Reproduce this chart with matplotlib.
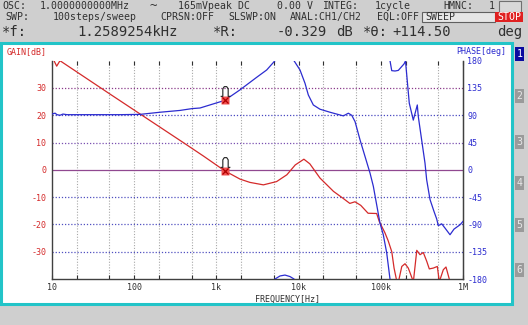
import numpy as np
import matplotlib.pyplot as plt
from matplotlib.patches import Rectangle
from matplotlib.path import Path
from matplotlib import transforms

plt.rcParams["font.family"] = "DejaVu Sans Mono"

W, H = 528, 325

# gain trace (Hz, dB)
gain_freq = [10, 11.4, 12.5, 20, 50, 100, 200, 400, 700, 1259, 1940, 2560, 3730,
             5400, 7200, 9100, 11600, 13700, 18200, 26600, 35000, 42000, 48500,
             57000, 70000, 89000, 96000, 112000, 123000, 136000, 145000, 157000,
             164000, 180000, 197000, 216000, 249000, 274000, 300000, 329000,
             362000, 389000, 435000, 487000, 515000, 576000, 621000, 695000, 1000000]
gain_db = [41.5, 38, 40, 35.9, 27.9, 21.9, 15.9, 9.9, 5.0, -0.33, -3.4, -4.6, -5.5,
           -4.3, -1.8, 1.8, 3.9, 2.2, -3.0, -7.9, -10.5, -12.3, -11.7,
           -13.0, -15.9, -16.0, -19.0, -23.0, -26.0, -30.0, -36.0, -41,
           -41, -35.4, -34.4, -36.0, -41, -29.5, -31.1, -30.3,
           -33.5, -36.3, -36.0, -35.4, -41, -36.6, -35.6, -41, -41]

# phase trace (Hz, deg, unwrapped)
phase_freq = [10, 10.9, 11.5, 12.5, 13.6, 15.2, 19.2, 33.5, 67, 118, 206, 361, 505,
              632, 1259, 1940, 3090, 4090, 5160, 5940, 6830, 7860, 8790, 10400,
              11970, 13130, 15100, 18200, 24100, 35000, 40300, 44300, 48600, 55900,
              64300, 74000, 81100, 89200, 97800, 107200, 118000, 129400, 135800,
              148900, 163300, 191500, 199700, 222000, 248500, 278000, 285800,
              314300, 345000, 361500, 397000, 443800, 478600, 500700, 550800,
              604000, 695000, 777700, 920000, 1000000]
phase_deg = [92, 93.5, 91, 90, 92, 91, 91, 91, 91, 91.5, 95, 98, 101,
             102, 114.5, 132, 152.6, 164.7, 180, 185, 186.5, 184, 180, 164.7,
             142.7, 123.5, 107, 100, 95, 89, 93.4, 90, 79.6, 49.4,
             22, -5.5, -27, -58, -88, -107, -137, -180, -196.4,
             -197, -196, -185.4, -180.5, -250, -278, -253, -272,
             -311, -349, -376.5, -409, -428.6, -441, -452, -449,
             -456, -467, -457.7, -450.6, -445]

marker_freq = 1258.9254
marker_gain = -0.329
marker_phase = 114.5

gain_ticks = [30, 20, 10, 0, -10, -20, -30]
phase_ticks = [180, 135, 90, 45, 0, -45, -90, -135, -180]
freq_ticks = [10, 100, 1e3, 1e4, 1e5, 1e6]
freq_labels = ["10", "100", "1k", "10k", "100k", "1M"]

RED = "#d42a2a"
BLUE = "#2c2cd0"
TXT = "#303030"
FS1 = 7.1
FS3 = 10


def fx(x):
    return x / W


def fy(y):
    return 1 - y / H


fig = plt.figure(figsize=(W / 100, H / 100), dpi=100, facecolor="#cfcfcf")

# header, line 1
fig.text(fx(2), fy(6), "OSC:", fontsize=FS1, color=TXT, va="center")
fig.text(fx(40), fy(6), "1.0000000000MHz", fontsize=FS1, color=TXT, va="center")
fig.text(fx(150), fy(6), "~", fontsize=9, color=TXT, va="center")
fig.text(fx(178), fy(6), "165mVpeak DC", fontsize=FS1, color=TXT, va="center")
fig.text(fx(277), fy(6), "0.00 V", fontsize=FS1, color=TXT, va="center")
fig.text(fx(322), fy(6), "INTEG:", fontsize=FS1, color=TXT, va="center")
fig.text(fx(375), fy(6), "1cycle", fontsize=FS1, color=TXT, va="center")
fig.text(fx(443), fy(6), "HMNC:", fontsize=FS1, color=TXT, va="center")
fig.text(fx(489), fy(6), "1", fontsize=FS1, color=TXT, va="center")
fig.patches.append(Rectangle((fx(499), fy(12)), 22 / W, 11 / H, transform=fig.transFigure,
                             facecolor="#d8d8d8", edgecolor="#707070", lw=0.8))

# line 2
fig.text(fx(5), fy(17), "SWP:", fontsize=FS1, color=TXT, va="center")
fig.text(fx(53), fy(17), "100steps/sweep", fontsize=FS1, color=TXT, va="center")
fig.text(fx(160), fy(17), "CPRSN:OFF", fontsize=FS1, color=TXT, va="center")
fig.text(fx(228), fy(17), "SLSWP:ON", fontsize=FS1, color=TXT, va="center")
fig.text(fx(290), fy(17), "ANAL:CH1/CH2", fontsize=FS1, color=TXT, va="center")
fig.text(fx(377), fy(17), "EQL:OFF", fontsize=FS1, color=TXT, va="center")
fig.patches.append(Rectangle((fx(422), fy(22)), 73 / W, 10 / H, transform=fig.transFigure,
                             facecolor="#e6e6e6", edgecolor="#606060", lw=0.8))
fig.text(fx(425), fy(17), "SWEEP", fontsize=FS1, color=TXT, va="center")
fig.patches.append(Rectangle((fx(495), fy(22)), 28 / W, 10 / H, transform=fig.transFigure,
                             facecolor="#e02020", edgecolor="none"))
fig.text(fx(497), fy(17), "STOP", fontsize=FS1, color="white", va="center")

# line 3 (cursor readout)
fig.text(fx(2), fy(32), "*f:", fontsize=FS3, color=TXT, va="center")
fig.text(fx(77), fy(32), "1.2589254kHz", fontsize=FS3, color=TXT, va="center")
fig.text(fx(213), fy(32), "*R:", fontsize=FS3, color=TXT, va="center")
fig.text(fx(277), fy(32), "-0.329", fontsize=FS3, color=TXT, va="center")
fig.text(fx(336), fy(32), "dB", fontsize=FS3, color=TXT, va="center")
fig.text(fx(363), fy(32), "*\u03b8:", fontsize=FS3, color=TXT, va="center")
fig.text(fx(392), fy(32), "+114.50", fontsize=FS3, color=TXT, va="center")
fig.text(fx(497), fy(32), "deg", fontsize=FS3, color=TXT, va="center")

# white panel with cyan frame (behind the axes)
fig.patches.append(Rectangle((fx(1), fy(304)), 511 / W, 261 / H, transform=fig.transFigure,
                             facecolor="white", edgecolor="#22c4c8", lw=2.2, zorder=-5))

# side buttons
btn_y = [54, 96, 142, 183, 225, 270]
for i, by in enumerate(btn_y):
    fc = "#0a0aa0" if i == 0 else "#9a9a9a"
    tc = "white" if i == 0 else "#e8e8e8"
    fig.patches.append(Rectangle((fx(515), fy(by + 7)), 9 / W, 14 / H, transform=fig.transFigure,
                                 facecolor=fc, edgecolor="none"))
    fig.text(fx(519.5), fy(by), str(i + 1), fontsize=FS1, color=tc, ha="center", va="center")

# plot area
ax = fig.add_axes([fx(52), fy(279), 411 / W, 218.3 / H])
ax.set_facecolor("none")
ax.set_xscale("log")
ax.set_xlim(10, 1e6)
ax.set_ylim(-40, 40)

minor = [m * 10 ** d for d in range(1, 6) for m in (2, 5)]
for f in minor + [100, 1e3, 1e4, 1e5]:
    ax.axvline(f, color="#a8a8a8", lw=0.8, ls=(0, (1, 1.5)), zorder=1)

grid_col = {30: "#8a3a8a", 20: "#4848c0", 10: "#7a50b0", -10: "#5050c0", -20: "#5050c0", -30: "#5050c0"}
for g, c in grid_col.items():
    ax.axhline(g, color=c, lw=0.9, ls=(0, (1, 1.5)), zorder=1)
ax.axhline(0, color="#904890", lw=0.9, zorder=1)

ax.plot(gain_freq, gain_db, color=RED, lw=0.9, zorder=3)

ax.set_yticks(gain_ticks)
ax.set_yticklabels([str(t) for t in gain_ticks])
ax.tick_params(axis="y", length=0, pad=4, labelsize=6, labelcolor=RED)
ax.set_xticks(freq_ticks)
ax.set_xticklabels(freq_labels)
ax.set_xticks(minor, minor=True)
ax.xaxis.set_minor_formatter(plt.NullFormatter())
ax.tick_params(axis="x", which="both", direction="in", length=3, width=0.8,
               top=True, pad=3, labelsize=6, labelcolor=TXT, color="#303030")
for s in ["left", "bottom", "right"]:
    ax.spines[s].set_color("#404040")
    ax.spines[s].set_linewidth(1)
ax.spines["top"].set_visible(False)

# phase axis, wrapped into -180..180 by drawing shifted copies and clipping
ax2 = ax.twinx()
ax2.set_ylim(-180, 180)
ph = np.array(phase_deg)
for off in (-360, 0, 360, 720):
    ax2.plot(phase_freq, ph + off, color=BLUE, lw=0.9, zorder=3)
ax2.set_yticks(phase_ticks)
ax2.set_yticklabels([str(t) for t in phase_ticks])
ax2.tick_params(axis="y", length=0, pad=3, labelsize=6, labelcolor=BLUE)
ax2.spines["top"].set_visible(False)
ax2.spines["right"].set_color("#404040")
ax2.spines["left"].set_visible(False)
ax2.spines["bottom"].set_visible(False)

# cursor markers
flag = Path([(-1, -1), (-0.55, -1), (-0.55, 0.55), (-0.25, 1), (0.25, 1),
             (0.55, 0.55), (0.55, -1), (1, -1)])
for a, val in ((ax, marker_gain), (ax2, marker_phase)):
    a.plot([marker_freq], [val], marker="s", ms=5.5, mfc="#f05050", mec="none", zorder=5)
    a.plot([marker_freq], [val], marker="x", ms=4, mec="#b00000", mew=0.9, zorder=6)
    tr = transforms.offset_copy(a.transData, fig=fig, x=0, y=9, units="dots")
    a.plot([marker_freq], [val], marker=flag, ms=7, mfc="none", mec="#202020",
           mew=0.8, transform=tr, zorder=6, clip_on=False)

fig.text(fx(7), fy(52), "GAIN[dB]", fontsize=6, color=RED, va="center")
fig.text(fx(506), fy(52), "PHASE[deg]", fontsize=6, color=BLUE, va="center", ha="right")
fig.text(fx(288), fy(299), "FREQUENCY[Hz]", fontsize=6, color=TXT, va="center", ha="center")

fig.savefig("out.png", dpi=100, facecolor=fig.get_facecolor())
